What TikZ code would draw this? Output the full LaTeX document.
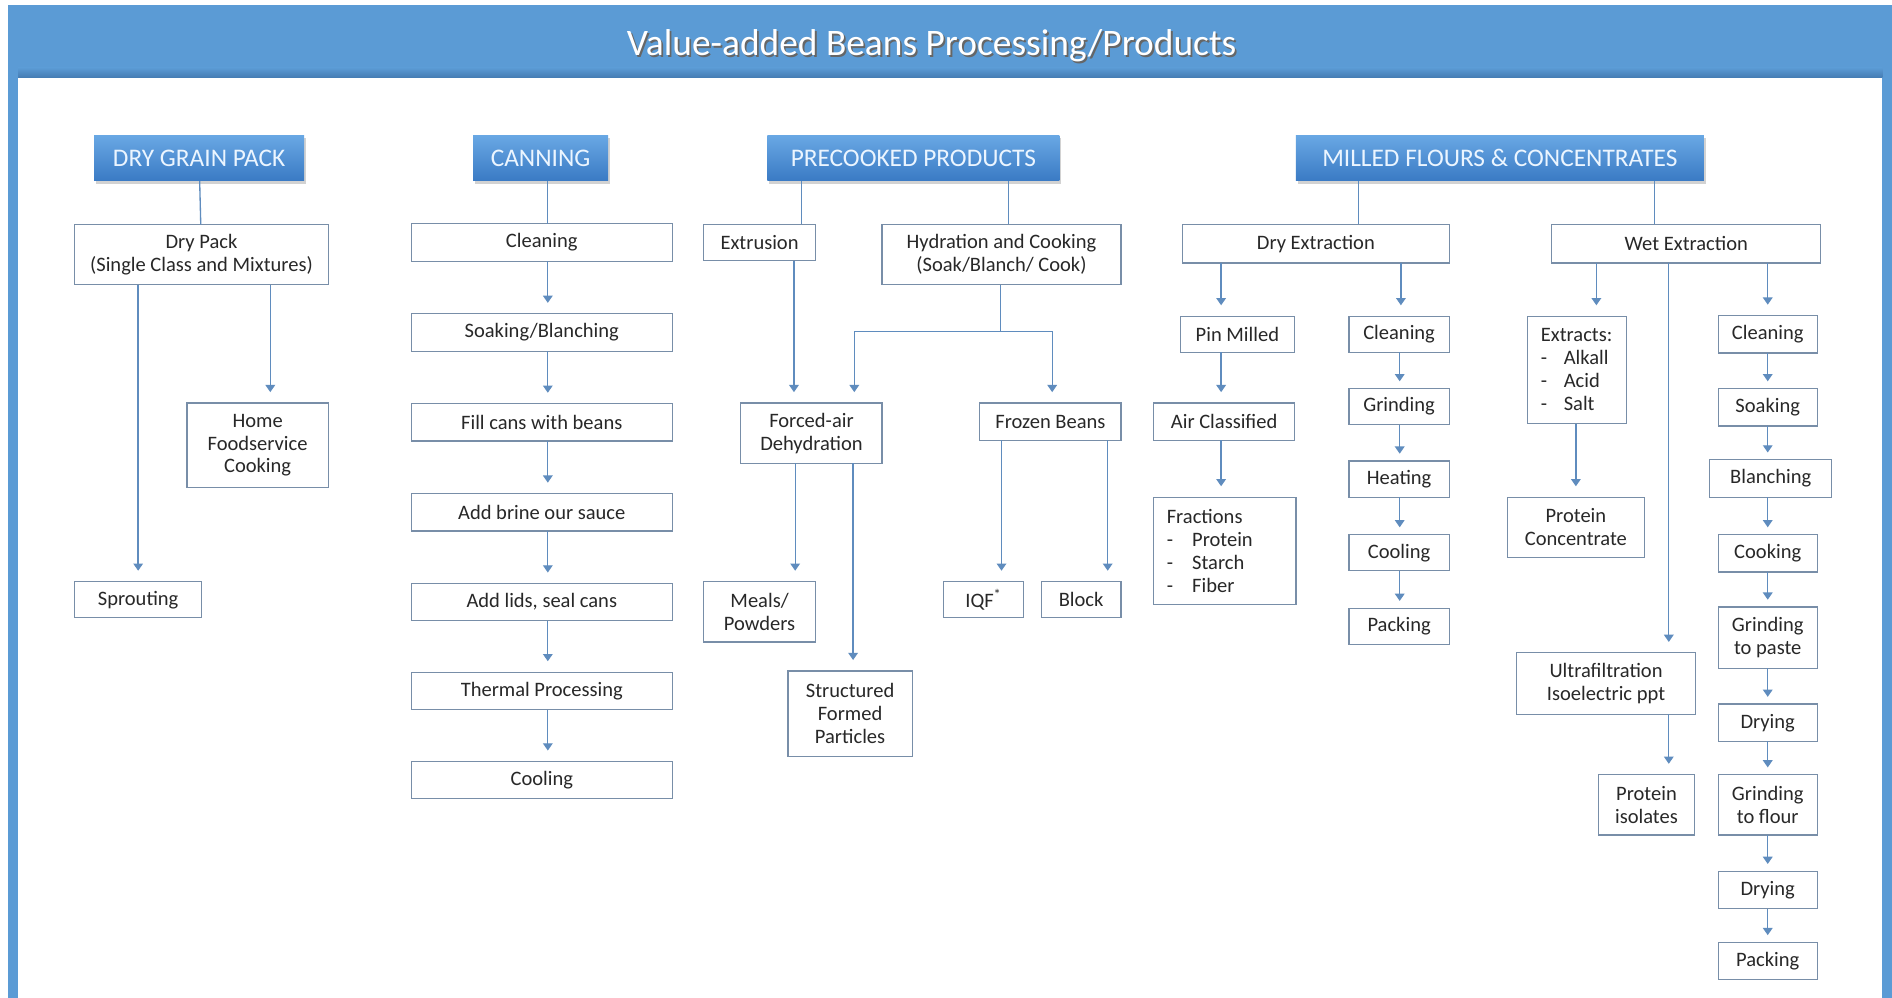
\documentclass[tikz,border=0pt]{standalone}
\usepackage{fontspec}
\setmainfont{Carlito}
\usetikzlibrary{arrows.meta,shadows}

\definecolor{bandblue}{RGB}{91,155,213}
\definecolor{banddark}{RGB}{70,125,180}
\definecolor{boxline}{RGB}{120,142,168}
\definecolor{flowline}{RGB}{95,140,190}
\definecolor{headtop}{RGB}{105,168,228}
\definecolor{headbot}{RGB}{58,122,196}
\definecolor{headtext}{RGB}{235,245,255}
\definecolor{boxtext}{RGB}{40,40,40}

\begin{document}
\begin{tikzpicture}[x=1pt,y=-1pt,
	stepbox/.style={draw=boxline, line width=1pt, fill=white, inner sep=2pt, outer sep=0pt,
		align=center, text=boxtext, font=\fontsize{17}{19}\selectfont},
	listbox/.style={stepbox, align=left, inner xsep=11pt},
	canbox/.style={stepbox, minimum width=216pt, minimum height=31pt},
	smallbox/.style={stepbox, minimum width=83pt, minimum height=30pt},
	wetbox/.style={stepbox, minimum width=82pt, minimum height=31pt},
	headbox/.style={top color=headtop, bottom color=headbot, draw=none, text=headtext,
		minimum height=38pt, outer sep=0pt, font=\fontsize{21}{24}\selectfont,
		drop shadow={shadow xshift=1.5pt, shadow yshift=-2.5pt, opacity=.35}},
	link/.style={draw=flowline, line width=1.1pt},
	flow/.style={link, -{Triangle[width=8pt,length=6pt]}, shorten >=9pt}]

	\useasboundingbox (0,0) rectangle (1568,827);
	% frame and title band
	\fill[white] (0,0) rectangle (1568,827);
	\fill[bandblue] (7,4) rectangle (1568,827);
	\fill[white] (15,64) rectangle (1560,827);
	\shade[top color=bandblue, bottom color=banddark] (15,56) rectangle (1560,64);
	\node[text=black!60, font=\fontsize{31}{34}\selectfont] (titleshade) at (773.5,39.5) {Value-added Beans Processing/Products};
	\node[text=white, font=\fontsize{31}{34}\selectfont] (title) at (772,38) {Value-added Beans Processing/Products};

	% headers
	\node[headbox, minimum width=174pt] (hdry) at (165,131) {DRY GRAIN PACK};
	\node[headbox, minimum width=112pt] (hcan) at (448,131) {CANNING};
	\node[headbox, minimum width=242pt] (hpre) at (757,131) {PRECOOKED PRODUCTS};
	\node[headbox, minimum width=338pt] (hmill) at (1243,131) {MILLED FLOURS \& CONCENTRATES};

	% dry grain pack
	\node[stepbox, minimum width=210pt, minimum height=50pt] (drypack) at (167,211) {Dry Pack\\(Single Class and Mixtures)};
	\node[stepbox, minimum width=117pt, minimum height=70pt] (home) at (213.5,369) {Home\\Foodservice\\Cooking};
	\node[stepbox, minimum width=105pt, minimum height=30pt] (sprout) at (114.5,497) {Sprouting};
	\draw[link] (hdry) -- (drypack);
	\draw[flow] (drypack.south -| 224,0) -- (home.north -| 224,0);
	\draw[flow] (drypack.south -| sprout) -- (sprout);

	% canning
	\node[canbox] (cclean) at (449,201) {Cleaning};
	\node[canbox] (csoak) at (449,275.5) {Soaking/Blanching};
	\node[canbox] (cfill) at (449,350) {Fill cans with beans};
	\node[canbox] (cbrine) at (449,424.5) {Add brine our sauce};
	\node[canbox] (clids) at (449,499) {Add lids, seal cans};
	\node[canbox] (ctherm) at (449,572.5) {Thermal Processing};
	\node[canbox] (ccool) at (449,646.5) {Cooling};
	\draw[link] (hcan.south -| 454,0) -- (cclean.north -| 454,0);
	\foreach \a/\b in {cclean/csoak, csoak/cfill, cfill/cbrine, cbrine/clids, clids/ctherm, ctherm/ccool}
		\draw[flow] (\a.south -| 454,0) -- (\b.north -| 454,0);

	% precooked products
	\node[stepbox, minimum width=93pt, minimum height=30pt] (extr) at (629.5,201) {Extrusion};
	\node[stepbox, minimum width=198pt, minimum height=50pt] (hydr) at (830,211) {Hydration and Cooking\\(Soak/Blanch/ Cook)};
	\node[stepbox, minimum width=117pt, minimum height=50pt] (forced) at (672.5,359) {Forced-air\\Dehydration};
	\node[stepbox, minimum width=117pt, minimum height=31pt] (frozen) at (870.5,349.5) {Frozen Beans};
	\node[stepbox, minimum width=93pt, minimum height=50pt] (meals) at (629.5,507) {Meals/\\Powders};
	\node[stepbox, minimum width=103pt, minimum height=71pt] (struct) at (704.5,591.5) {Structured\\Formed\\Particles};
	\node[stepbox, minimum width=66pt, minimum height=30pt] (iqf) at (815,497) {IQF\textsuperscript{*}};
	\node[stepbox, minimum width=66pt, minimum height=30pt] (block) at (896,497) {Block};
	\draw[link] (hpre.south -| 664,0) -- (extr.north -| 664,0);
	\draw[link] (hpre.south -| 836,0) -- (hydr.north -| 836,0);
	\draw[flow] (extr.south -| 658,0) -- (forced.north -| 658,0);
	\coordinate (split) at (829,275);
	\draw[link] (hydr.south -| split) -- (split);
	\draw[flow] (split) -| (forced.north -| 708,0);
	\draw[flow] (split) -| (frozen.north -| 872,0);
	\draw[flow] (forced.south -| 659,0) -- (meals.north -| 659,0);
	\draw[flow] (forced.south -| 707,0) -- (struct.north -| 707,0);
	\draw[flow] (frozen.south -| 830,0) -- (iqf.north -| 830,0);
	\draw[flow] (frozen.south -| 918,0) -- (block.north -| 918,0);

	% milled flours and concentrates
	\node[stepbox, minimum width=221pt, minimum height=32pt] (dryex) at (1090.5,202) {Dry Extraction};
	\node[stepbox, minimum width=223pt, minimum height=32pt] (wetex) at (1397.5,202) {Wet Extraction};
	\draw[link] (hmill.south -| 1126,0) -- (dryex.north -| 1126,0);
	\draw[link] (hmill.south -| 1371,0) -- (wetex.north -| 1371,0);

	% dry extraction
	\node[stepbox, minimum width=95pt, minimum height=30pt] (pin) at (1025.5,277) {Pin Milled};
	\node[stepbox, minimum width=117pt, minimum height=31pt] (aircl) at (1014.5,349.5) {Air Classified};
	\node[listbox, text width=96pt, minimum height=89pt] (fract) at (1015,456.5)
		{Fractions\\\makebox[21pt][l]{-}Protein\\\makebox[21pt][l]{-}Starch\\\makebox[21pt][l]{-}Fiber};
	\node[smallbox] (dclean) at (1159.5,277) {Cleaning};
	\node[smallbox] (dgrind) at (1159.5,337) {Grinding};
	\node[smallbox] (dheat) at (1159.5,397) {Heating};
	\node[smallbox] (dcool) at (1159.5,458) {Cooling};
	\node[smallbox] (dpack) at (1159.5,519) {Packing};
	\draw[flow] (dryex.south -| 1012,0) -- (pin.north -| 1012,0);
	\draw[flow] (pin.south -| 1012,0) -- (aircl.north -| 1012,0);
	\draw[flow] (aircl.south -| 1012,0) -- (fract.north -| 1012,0);
	\draw[flow] (dryex.south -| 1161,0) -- (dclean.north -| 1161,0);
	\foreach \a/\b in {dclean/dgrind, dgrind/dheat, dheat/dcool, dcool/dpack}
		\draw[flow, shorten >=6pt] (\a.south -| 1160,0) -- (\b.north -| 1160,0);

	% wet extraction
	\node[listbox, text width=60pt, minimum height=89pt] (extracts) at (1307,306.5)
		{Extracts:\\\makebox[19pt][l]{-}Alkall\\\makebox[19pt][l]{-}Acid\\\makebox[19pt][l]{-}Salt};
	\node[stepbox, minimum width=114pt, minimum height=50pt] (protc) at (1306,437) {Protein\\Concentrate};
	\node[stepbox, minimum width=148pt, minimum height=51pt] (ultra) at (1331,566.5) {Ultrafiltration\\Isoelectric ppt};
	\node[stepbox, minimum width=79pt, minimum height=50pt] (protiso) at (1364.5,667) {Protein\\isolates};
	\node[wetbox] (wclean) at (1465,277) {Cleaning};
	\node[wetbox] (wsoak) at (1465,337.5) {Soaking};
	\node[wetbox, minimum width=101pt] (wblanch) at (1467.5,396.5) {Blanching};
	\node[wetbox] (wcook) at (1465,458.5) {Cooking};
	\node[wetbox, minimum height=51pt] (wpaste) at (1465,528.5) {Grinding\\to paste};
	\node[wetbox] (wdry) at (1465,599) {Drying};
	\node[wetbox, minimum height=50pt] (wflour) at (1465,667) {Grinding\\to flour};
	\node[wetbox] (wdrytwo) at (1465,737.5) {Drying};
	\node[wetbox] (wpack) at (1465,796.5) {Packing};
	\draw[flow] (wetex.south -| 1323,0) -- (extracts.north -| 1323,0);
	\draw[flow] (wetex.south -| 1383,0) -- (ultra.north -| 1383,0);
	\draw[flow] (wetex.south -| 1465,0) -- (wclean.north -| 1465,0);
	\draw[flow] (extracts.south -| 1306,0) -- (protc.north -| 1306,0);
	\draw[flow] (ultra.south -| 1383,0) -- (protiso.north -| 1383,0);
	\foreach \a/\b in {wclean/wsoak, wsoak/wblanch, wblanch/wcook, wcook/wpaste, wpaste/wdry, wdry/wflour, wflour/wdrytwo, wdrytwo/wpack}
		\draw[flow, shorten >=6pt] (\a.south -| 1465,0) -- (\b.north -| 1465,0);
\end{tikzpicture}
\end{document}
